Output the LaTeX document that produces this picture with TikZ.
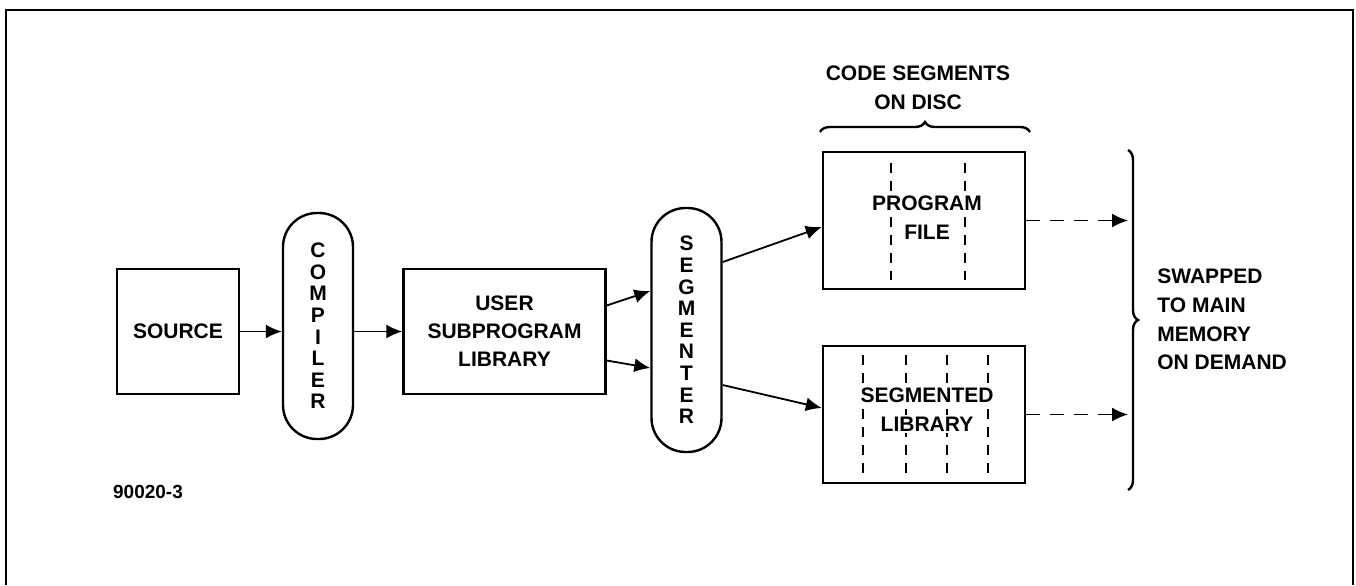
\documentclass[tikz,border=0pt]{standalone}
\usepackage{fontspec}
\setmainfont{Liberation Sans}
\usetikzlibrary{arrows.meta,decorations.pathreplacing}

\begin{document}
\begin{tikzpicture}[x=0.5pt, y=-0.5pt, >={Latex[length=8pt,width=7pt]},
  caja/.style={draw, line width=1.2pt, inner sep=0pt, align=center,
               font=\fontsize{10.5}{14}\selectfont\bfseries},
  pastilla/.style={draw, line width=1.2pt, rounded corners=17pt, minimum width=35pt,
               inner sep=0pt, align=center, font=\fontsize{10.5}{10.8}\selectfont\bfseries},
  texto/.style={inner sep=1pt, font=\fontsize{10.5}{14.3}\selectfont\bfseries},
  flecha/.style={->, line width=0.9pt},
  trazos/.style={line width=0.8pt, dash pattern=on 5pt off 4pt},
  llave/.style={line width=1.2pt, decorate}]

\useasboundingbox (0,0) rectangle (1356,585);

% Marco
\draw[line width=1.2pt] (6,585) -- (6,10) -- (1353,10) -- (1353,585);

% Fuente, compilador y biblioteca
\node[caja, minimum width=61pt, minimum height=62.5pt] (source) at (178,331.5) {SOURCE};
\node[pastilla, minimum height=113pt] (compiler) at (318,326) {C\\O\\M\\P\\I\\L\\E\\R};
\node[caja, minimum width=101pt, minimum height=62.5pt] (lib) at (504.5,331.5) {USER\\SUBPROGRAM\\LIBRARY};
\node[pastilla, minimum height=122pt] (segmenter) at (686.5,330) {S\\E\\G\\M\\E\\N\\T\\E\\R};

% Segmentos en disco
\node[caja, minimum width=101pt, minimum height=68.5pt] (pfile) at (924,220.5) {};
\node[caja, minimum width=101pt, minimum height=68.5pt] (slib) at (924,414.5) {};
\foreach \x in {891,965}
  \draw[trazos] (\x,163) -- (\x,280);
\foreach \x in {863,906,947,988}
  \draw[trazos] (\x,355) -- (\x,476);
\node[texto, fill=white] (prog) at (927,203) {PROGRAM};
\node[texto, fill=white] (file) at (927,232) {FILE};
\node[texto, fill=white] (segm) at (927,395) {SEGMENTED};
\node[texto, fill=white] (libr) at (927,424) {LIBRARY};

% Flechas
\draw[flecha] (source.east) -- (source.east -| compiler.west);
\draw[flecha] (compiler.east |- lib.west) -- (lib.west);
\draw[flecha] ([yshift=13pt]lib.east) -- ([yshift=19.5pt]segmenter.west);
\draw[flecha] ([yshift=-14.5pt]lib.east) -- ([yshift=-19pt]segmenter.west);
\draw[flecha] ([yshift=34pt]segmenter.east) -- ([yshift=-3.25pt]pfile.west);
\draw[flecha] ([yshift=-27.5pt]segmenter.east) -- ([yshift=3.25pt]slib.west);

% Llaves
\coordinate (brtop) at (1128,150);
\coordinate (brbot) at (1128,490);
\draw[llave, decoration={brace, amplitude=5pt}] (brtop) -- (brbot);
\draw[llave, decoration={brace, amplitude=5pt}] (820,132) -- (1030,132);

\draw[flecha, dash pattern=on 7pt off 5pt] (pfile.east) -- (pfile.east -| brtop);
\draw[flecha, dash pattern=on 7pt off 5pt] (slib.east) -- (slib.east -| brtop);

% Rotulos
\node[texto, align=center] (disco) at (918,88) {CODE SEGMENTS\\ON DISC};
\node[texto, align=left, anchor=west] (swap) at (1155,319.5) {SWAPPED\\TO MAIN\\MEMORY\\ON DEMAND};
\node[font=\fontsize{9.5}{11}\selectfont\bfseries] (ref) at (148,492) {90020-3};

\end{tikzpicture}
\end{document}
